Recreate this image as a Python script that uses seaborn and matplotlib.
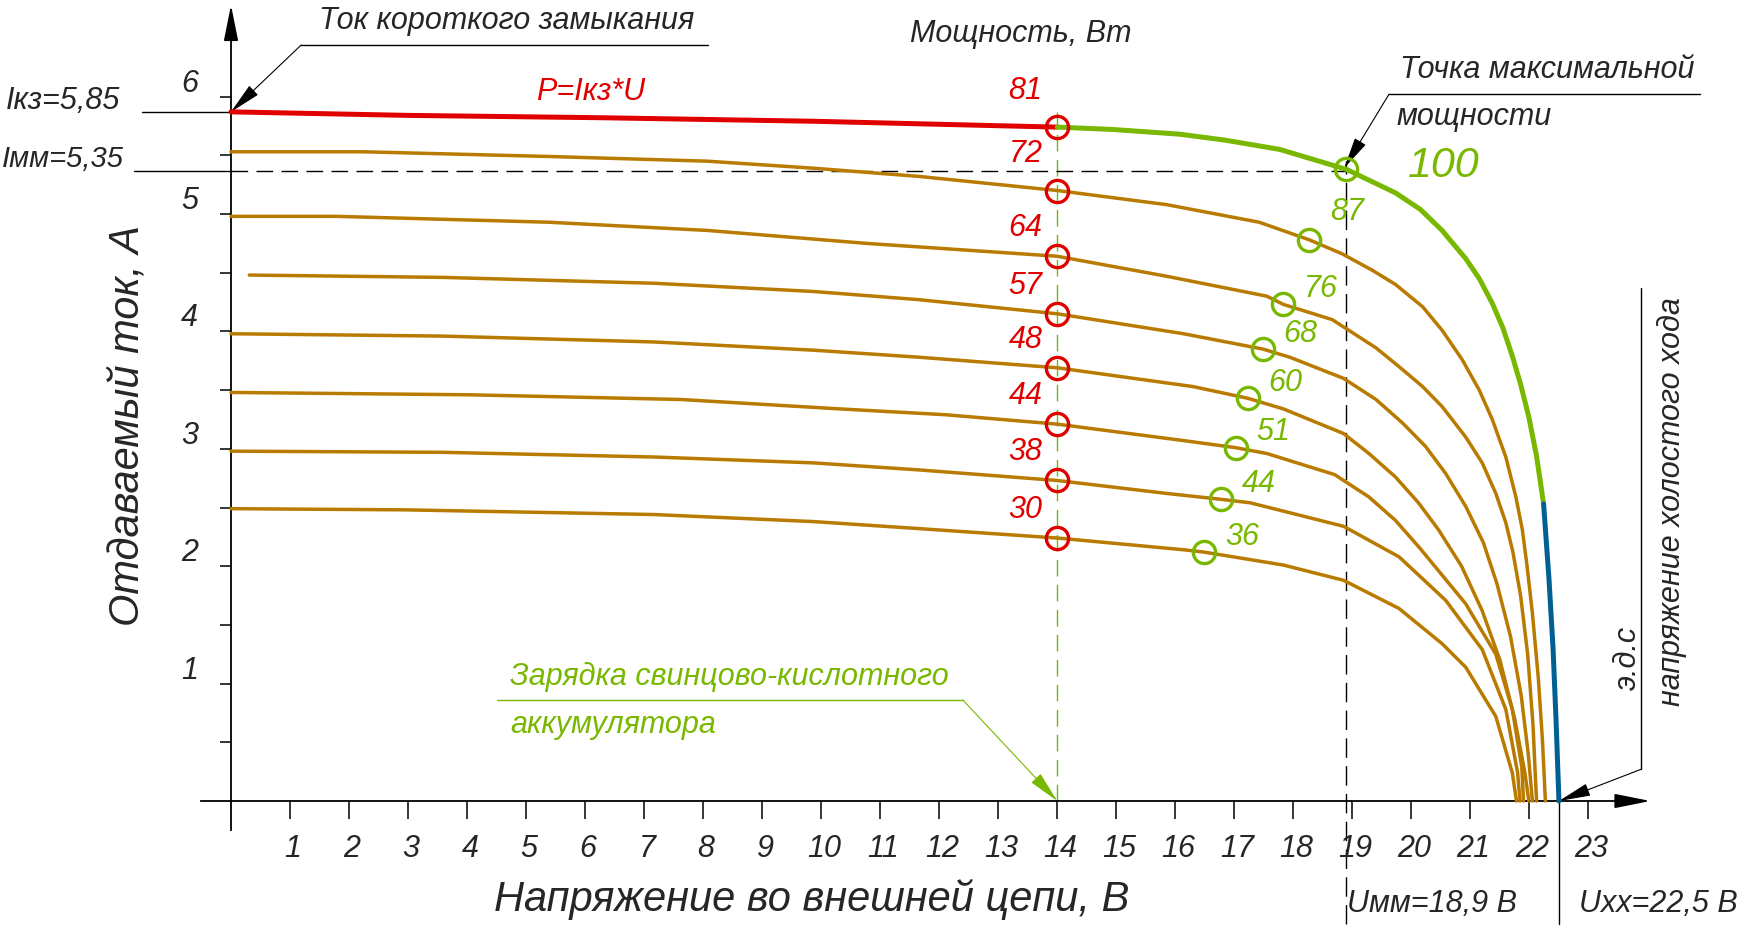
import numpy as np
import pandas as pd
import matplotlib
matplotlib.use("Agg")
import matplotlib.pyplot as plt
import matplotlib.font_manager as fm
import seaborn as sns

sns.set_style("white")
names = {f.name for f in fm.fontManager.ttflist}
FONT = "Liberation Sans" if "Liberation Sans" in names else "DejaVu Sans"
plt.rcParams["font.family"] = [FONT, "DejaVu Sans"]
plt.rcParams["font.style"] = "italic"

# ---------------- data ----------------
# top curve (Isc = 5.85 A), split in three coloured parts
top_red_V = [0, 3.0, 6.28, 9.87, 14.0]
top_red_I = [5.87, 5.84, 5.82, 5.79, 5.74]
top_green_V = [14.0, 14.94, 16.07, 16.83, 17.77, 18.9, 19.73, 20.15, 20.52, 20.92, 21.15, 21.37,
               21.55, 21.71, 21.85, 21.99, 22.12, 22.24]
top_green_I = [5.74, 5.72, 5.68, 5.63, 5.55, 5.38, 5.18, 5.04, 4.86, 4.62, 4.45, 4.24,
               4.03, 3.79, 3.55, 3.27, 2.94, 2.53]
top_blue_V = [22.24, 22.33, 22.40, 22.45, 22.50]
top_blue_I = [2.53, 1.90, 1.30, 0.70, 0]

c2_V = [0, 2.24, 5.38, 8.07, 9.87, 11.66, 14.0, 15.85, 17.42, 18.27, 18.83, 19.34, 19.73, 20.19, 20.52,
        20.86, 21.15, 21.37, 21.60, 21.77, 21.88, 21.96, 22.05, 22.15, 22.22, 22.27]
c2_I = [5.53, 5.53, 5.49, 5.45, 5.39, 5.32, 5.20, 5.08, 4.93, 4.78, 4.66, 4.52, 4.40, 4.21, 4.01,
        3.76, 3.50, 3.25, 2.93, 2.59, 2.31, 2.00, 1.60, 1.05, 0.52, 0]
c3_V = [0, 1.79, 5.38, 8.07, 10.76, 14.0, 15.85, 17.55, 17.83, 18.66, 19.40, 19.79, 20.19, 20.52, 20.92,
        21.20, 21.43, 21.60, 21.72, 21.85, 21.97, 22.06, 22.12]
c3_I = [4.98, 4.98, 4.93, 4.86, 4.75, 4.64, 4.47, 4.30, 4.23, 4.10, 3.86, 3.70, 3.53, 3.36, 3.10,
        2.88, 2.62, 2.37, 2.12, 1.75, 1.25, 0.65, 0]
c4_V = [0.31, 3.59, 7.17, 9.87, 11.66, 14.0, 16.14, 17.48, 17.94, 18.85, 19.40, 19.85, 20.24, 20.58,
        20.92, 21.22, 21.45, 21.68, 21.86, 21.98, 22.05]
c4_I = [4.48, 4.46, 4.41, 4.34, 4.27, 4.15, 3.98, 3.85, 3.78, 3.60, 3.42, 3.22, 3.02, 2.79,
        2.51, 2.20, 1.85, 1.40, 0.90, 0.40, 0]
c5_V = [0, 3.59, 7.17, 9.87, 11.66, 14.0, 16.30, 17.23, 17.83, 18.85, 19.28, 19.73, 20.12, 20.46,
        20.85, 21.20, 21.50, 21.75, 21.92, 21.99]
c5_I = [3.98, 3.96, 3.91, 3.84, 3.78, 3.69, 3.53, 3.43, 3.34, 3.13, 2.96, 2.76, 2.54, 2.31,
        2.00, 1.62, 1.20, 0.70, 0.25, 0]
c6_V = [0, 4.04, 7.62, 10.31, 12.11, 14.0, 16.14, 17.02, 17.55, 18.70, 19.28, 19.73, 20.15, 20.92,
        21.43, 21.71, 21.87, 21.90]
c6_I = [3.48, 3.46, 3.42, 3.34, 3.29, 3.21, 3.07, 3.01, 2.96, 2.78, 2.59, 2.39, 2.15, 1.68,
        1.25, 0.78, 0.29, 0]
c7_V = [0, 3.59, 7.17, 9.87, 11.66, 14.0, 15.85, 16.77, 17.27, 18.85, 19.79, 20.58, 21.20, 21.60, 21.80, 21.84]
c7_I = [2.98, 2.97, 2.93, 2.88, 2.82, 2.73, 2.62, 2.57, 2.54, 2.34, 2.08, 1.71, 1.29, 0.78, 0.24, 0]
c8_V = [0, 2.96, 7.17, 9.87, 11.66, 14.0, 16.14, 16.49, 17.83, 18.85, 19.79, 20.52, 20.92, 21.43, 21.71, 21.78]
c8_I = [2.49, 2.48, 2.44, 2.38, 2.32, 2.24, 2.14, 2.12, 2.01, 1.88, 1.64, 1.34, 1.14, 0.72, 0.24, 0]

charge_V = 14.0
charge_I = [5.74, 5.20, 4.64, 4.15, 3.69, 3.21, 2.73, 2.24]
charge_P = ["81", "72", "64", "57", "48", "44", "38", "30"]
mpp_V = [18.9, 18.27, 17.83, 17.48, 17.23, 17.02, 16.77, 16.49]
mpp_I = [5.38, 4.78, 4.23, 3.85, 3.43, 3.01, 2.57, 2.12]
mpp_P = ["100", "87", "76", "68", "60", "51", "44", "36"]

x_ticks = list(range(1, 24))
y_ticks = [0.5 * k for k in range(1, 13)]
y_labels = [1, 2, 3, 4, 5, 6]
U_mm, U_xx, I_kz, I_mm = 18.9, 22.5, 5.87, 5.37

RED, ORANGE, GREEN, BLUE = "#E00000", "#B97A00", "#79B800", "#006094"

# ---------------- figure ----------------
fig = plt.figure(figsize=(17.45, 9.34), dpi=100)
ax = fig.add_axes([0, 0, 1, 1])
ax.set_xlim(-231 / 59.02, (1745 - 231) / 59.02)
ax.set_ylim(-(934 - 801) / 117.4, 801 / 117.4)
ax.patch.set_alpha(0)

for s in ["top", "right"]:
    ax.spines[s].set_visible(False)
ax.spines["left"].set_position(("data", 0))
ax.spines["bottom"].set_position(("data", 0))
ax.spines["left"].set_bounds(-0.25, 6.6)
ax.spines["bottom"].set_bounds(-0.5, 23.8)
for s in ["left", "bottom"]:
    ax.spines[s].set_color("black")
    ax.spines[s].set_linewidth(1.3)
ax.set_xticks(x_ticks)
ax.set_yticks(y_ticks)
ax.set_xticklabels([])
ax.set_yticklabels([])
ax.tick_params(axis="x", direction="out", length=13, width=1.1, color="black", bottom=True)
ax.tick_params(axis="y", direction="out", length=8, width=1.1, color="black", left=True)
ax.grid(False)
ax.set_xlabel("")
ax.set_ylabel("")

arrow_kw = dict(arrowstyle="-|>,head_length=1.1,head_width=0.22", color="black", lw=1.3,
                mutation_scale=20, shrinkA=0, shrinkB=0)
ax.annotate("", xy=(0, 6.78), xytext=(0, 6.5), arrowprops=arrow_kw)
ax.annotate("", xy=(24.05, 0), xytext=(23.7, 0), arrowprops=arrow_kw)

FS = 22
for v in x_ticks:
    ax.text(v + 0.05, -0.41, str(v), ha="center", va="center", fontsize=FS)
for k in y_labels:
    ax.text(-0.7, k + 0.11, str(k), ha="center", va="center", fontsize=FS)

ax.text(9.84, -0.84, "Напряжение во внешней цепи, В", ha="center", va="center", fontsize=30)
ax.text(-1.75, 3.2, "Отдаваемый ток, А", ha="center", va="center", fontsize=30, rotation=90)

# ---------------- curves ----------------
orange_curves = [(c2_V, c2_I), (c3_V, c3_I), (c4_V, c4_I), (c5_V, c5_I),
                 (c6_V, c6_I), (c7_V, c7_I), (c8_V, c8_I)]
for V, I in orange_curves:
    sns.lineplot(x=V, y=I, color=ORANGE, lw=2.5, ax=ax, estimator=None, sort=False, zorder=3)
sns.lineplot(x=top_red_V, y=top_red_I, color=RED, lw=3.6, ax=ax, estimator=None, sort=False, zorder=4)
sns.lineplot(x=top_green_V, y=top_green_I, color=GREEN, lw=3.6, ax=ax, estimator=None, sort=False, zorder=4)
sns.lineplot(x=top_blue_V, y=top_blue_I, color=BLUE, lw=3.6, ax=ax, estimator=None, sort=False, zorder=4)

# reference lines
ax.plot([charge_V, charge_V], [0, I_kz], color=GREEN, lw=1.0, ls=(0, (12, 6)), zorder=2)
ax.plot([-1.65, 0], [I_mm, I_mm], color="black", lw=1.0, zorder=2)
ax.plot([0, U_mm], [I_mm, I_mm], color="black", lw=1.0, ls=(0, (12, 6)), zorder=2)
ax.plot([U_mm, U_mm], [-1.05, 5.45], color="black", lw=1.0, ls=(0, (14, 6)), zorder=2)
ax.plot([U_xx, U_xx], [-1.05, 0], color="black", lw=1.0, zorder=2)
ax.plot([-1.5, 0], [I_kz, I_kz], color="black", lw=1.0, zorder=2)

# circles
ax.plot([charge_V] * len(charge_I), charge_I, ls="none", marker="o", ms=16, mfc="none",
        mec=RED, mew=2.4, zorder=6)
ax.plot(mpp_V, mpp_I, ls="none", marker="o", ms=16, mfc="none", mec=GREEN, mew=2.4, zorder=6)

for n, (i, p) in enumerate(zip(charge_I, charge_P)):
    dy = 0.31 if n < 2 else 0.24
    ax.text(charge_V - 0.54, i + dy, p, color=RED, ha="center", va="center", fontsize=FS)
for n, (v, i, p) in enumerate(zip(mpp_V[1:], mpp_I[1:], mpp_P[1:])):
    dy = 0.24 if n == 0 else 0.13
    ax.text(v + 0.64, i + dy, p, color=GREEN, ha="center", va="center", fontsize=FS)
ax.text(20.54, 5.41, mpp_P[0], color=GREEN, ha="center", va="center", fontsize=31)

# ---------------- annotations ----------------
lead_kw = dict(arrowstyle="-|>,head_length=1.0,head_width=0.2", color="black", lw=0.8,
               mutation_scale=20, shrinkA=0, shrinkB=0)
ax.text(4.67, 6.64, "Ток короткого замыкания", ha="center", va="center", fontsize=FS)
ax.plot([1.19, 8.08], [6.44, 6.44], color="black", lw=1.0)
ax.annotate("", xy=(0, I_kz), xytext=(1.19, 6.44), arrowprops=lead_kw)
ax.text(-2.85, 5.96, "Iкз=5,85", ha="center", va="center", fontsize=FS)
ax.text(-2.85, 5.47, "Iмм=5,35", ha="center", va="center", fontsize=21)
ax.text(6.09, 6.04, "P=Iкз*U", color=RED, ha="center", va="center", fontsize=FS)
ax.text(13.38, 6.53, "Мощность, Вт", ha="center", va="center", fontsize=FS)

ax.text(19.80, 6.23, "Точка максимальной", ha="left", va="center", fontsize=FS)
ax.plot([19.62, 24.89], [6.02, 6.02], color="black", lw=1.0)
ax.annotate("", xy=(U_mm - 0.04, 5.39), xytext=(19.62, 6.02), arrowprops=lead_kw)
ax.text(19.75, 5.83, "мощности", ha="left", va="center", fontsize=FS)

ax.text(20.35, -0.88, "Uмм=18,9 В", ha="center", va="center", fontsize=FS)
ax.text(24.18, -0.88, "Uxx=22,5 В", ha="center", va="center", fontsize=FS)

ax.text(4.73, 1.06, "Зарядка свинцово-кислотного", color=GREEN, ha="left", va="center", fontsize=FS)
ax.text(4.73, 0.65, "аккумулятора", color=GREEN, ha="left", va="center", fontsize=FS)
ax.plot([4.50, 12.40], [0.86, 0.86], color=GREEN, lw=1.0)
g_kw = dict(lead_kw)
g_kw["color"] = GREEN
ax.annotate("", xy=(charge_V, 0), xytext=(12.40, 0.86), arrowprops=g_kw)

ax.text(23.67, 1.22, "э.д.с", ha="center", va="center", fontsize=FS, rotation=90)
ax.text(24.42, 2.55, "напряжение холостого хода", ha="center", va="center", fontsize=FS, rotation=90)
ax.plot([23.89, 23.89], [0.27, 4.37], color="black", lw=1.0)
ax.annotate("", xy=(U_xx, 0), xytext=(23.89, 0.27), arrowprops=lead_kw)

fig.savefig("out.png", dpi=100, facecolor="white")
